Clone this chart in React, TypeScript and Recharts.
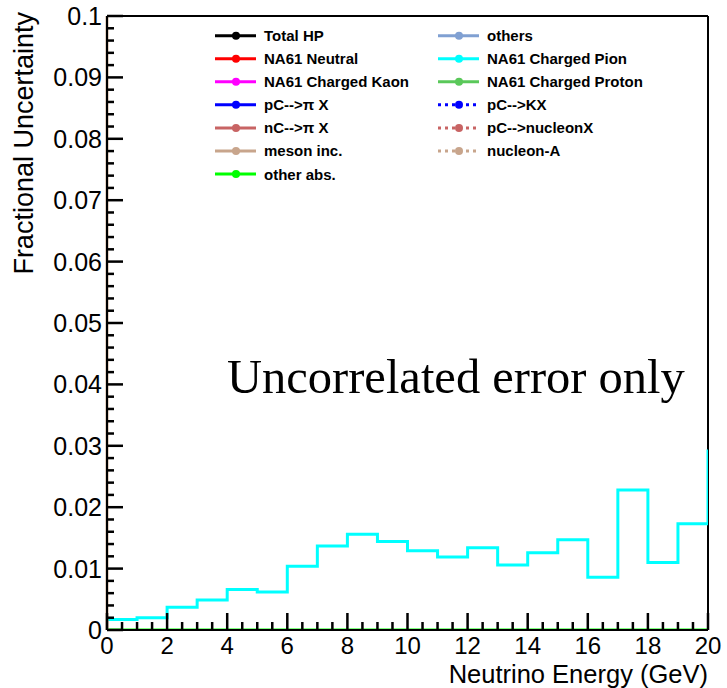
import React from 'react';
import { ComposedChart, Line, XAxis, YAxis, ReferenceLine } from 'recharts';

// Bin low edges (GeV); last entry is the upper edge of the last bin (overflow start)
const binEdges = [0, 1, 2, 3, 4, 5, 6, 7, 8, 9, 10, 11, 12, 13, 14, 15, 16, 17, 18, 19, 20];
const chargedPion = [0.0017, 0.002, 0.0037, 0.0049, 0.0066, 0.0062, 0.0104, 0.0137, 0.0156, 0.0144, 0.0129, 0.0119, 0.0134, 0.0106, 0.0126, 0.0147, 0.0086, 0.0228, 0.011, 0.0173, 0.0294];
const otherAbs = [0, 0, 0, 0, 0, 0, 0, 0, 0, 0, 0, 0, 0, 0, 0, 0, 0, 0, 0, 0, 0];

const xTicks = Array.from({ length: 41 }, (_, i) => i * 0.5);
const xMajorLabels = ['0', '2', '4', '6', '8', '10', '12', '14', '16', '18', '20'];
const yTicks = Array.from({ length: 51 }, (_, i) => +(i * 0.002).toFixed(3));
const yMajorLabels = ['0', '0.01', '0.02', '0.03', '0.04', '0.05', '0.06', '0.07', '0.08', '0.09', '0.1'];

const legendLeftNames = ['Total HP', 'NA61 Neutral', 'NA61 Charged Kaon', 'pC-->\u03c0 X', 'nC-->\u03c0 X', 'meson inc.', 'other abs.'];
const legendLeftColors = ['#000000', '#ff0000', '#ff00ff', '#0000ff', '#c86464', '#c8a58c', '#00ff00'];
const legendRightNames = ['others', 'NA61 Charged Pion', 'NA61 Charged Proton', 'pC-->KX', 'pC-->nucleonX', 'nucleon-A'];
const legendRightColors = ['#80a0d2', '#00ffff', '#5ac85a', '#0000ff', '#c86464', '#c8a58c'];
const legendRightDashed = [false, false, false, true, true, true];

const rows = binEdges.map((e, i) => ({ e, pion: chargedPion[i], otherAbs: otherAbs[i] }));

const SANS = 'Liberation Sans, Arial, Helvetica, sans-serif';

const XTick = (props: any) => {
  const { x, y, payload } = props;
  const v = payload.value as number;
  const major = Math.abs(v % 2) < 1e-9;
  const len = major ? 17 : 8;
  return (
    <g>
      <line x1={x} x2={x} y1={y} y2={y - len} stroke="#000" strokeWidth={2.5} />
      {major && (
        <text x={x} y={y + 24} textAnchor="middle" fontSize={24} fontFamily={SANS} fill="#000">
          {xMajorLabels[Math.round(v / 2)]}
        </text>
      )}
    </g>
  );
};

const YTick = (props: any) => {
  const { x, y, payload } = props;
  const v = payload.value as number;
  const k = Math.round(v * 1000);
  const major = k % 10 === 0;
  const len = major ? 16 : 7;
  return (
    <g>
      <line x1={x} x2={x + len} y1={y} y2={y} stroke="#000" strokeWidth={2.5} />
      {major && (
        <text x={x - 5} y={y + 9} textAnchor="end" fontSize={25} fontFamily={SANS} fill="#000">
          {yMajorLabels[k / 10]}
        </text>
      )}
    </g>
  );
};

const rowY = (i: number) => 35.7 + i * 23.05;

const LegendEntry = ({ x, i, name, color, dashed }: { x: number; i: number; name: string; color: string; dashed: boolean }) => (
  <g>
    <line x1={x} x2={x + 41} y1={rowY(i)} y2={rowY(i)} stroke={color} strokeWidth={3} strokeDasharray={dashed ? '3 4' : undefined} />
    <circle cx={x + 21} cy={rowY(i)} r={4} fill={color} />
    <text x={x + 49} y={rowY(i) + 5.5} fontSize={15} fontWeight="bold" fontFamily={SANS} fill="#000">
      {name}
    </text>
  </g>
);

export default function App() {
  return (
    <div style={{ position: 'absolute', left: 0, top: 0, width: 727, height: 688, background: '#fff' }}>
      <ComposedChart width={727} height={688} data={rows} margin={{ top: 16, right: 19, bottom: 0, left: 0 }}>
        <XAxis
          dataKey="e"
          type="number"
          domain={[0, 20]}
          ticks={xTicks}
          interval={0}
          height={58}
          tickSize={0}
          tickMargin={0}
          tick={<XTick />}
          axisLine={{ stroke: '#000', strokeWidth: 2 }}
          allowDataOverflow
        />
        <YAxis
          type="number"
          domain={[0, 0.1]}
          ticks={yTicks}
          interval={0}
          width={107}
          tickSize={0}
          tickMargin={0}
          tick={<YTick />}
          axisLine={{ stroke: '#000', strokeWidth: 2 }}
          allowDataOverflow
        />
        <ReferenceLine y={0.1} stroke="#000" strokeWidth={2} />
        <ReferenceLine x={20} stroke="#000" strokeWidth={2} />
        <Line type="stepAfter" dataKey="pion" stroke="#00ffff" strokeWidth={3} dot={false} isAnimationActive={false} />
        <Line type="stepAfter" dataKey="otherAbs" stroke="#00ff00" strokeWidth={3} dot={false} isAnimationActive={false} />
        <ReferenceLine x={0} stroke="#c8a58c" strokeWidth={3} />
      </ComposedChart>
      <svg width={727} height={688} style={{ position: 'absolute', left: 0, top: 0, pointerEvents: 'none' }}>
        {legendLeftNames.map((n, i) => (
          <LegendEntry key={'l' + i} x={215} i={i} name={n} color={legendLeftColors[i]} dashed={false} />
        ))}
        {legendRightNames.map((n, i) => (
          <LegendEntry key={'r' + i} x={438} i={i} name={n} color={legendRightColors[i]} dashed={legendRightDashed[i]} />
        ))}
        <text x={227} y={393} fontSize={48.5} fontFamily="Liberation Serif, Times New Roman, serif" fill="#000">
          Uncorrelated error only
        </text>
        <text x={708} y={683} textAnchor="end" fontSize={25.5} fontFamily={SANS} fill="#000">
          Neutrino Energy (GeV)
        </text>
        <text transform="translate(33,12) rotate(-90)" textAnchor="end" fontSize={27} fontFamily={SANS} fill="#000">
          Fractional Uncertainty
        </text>
      </svg>
    </div>
  );
}
